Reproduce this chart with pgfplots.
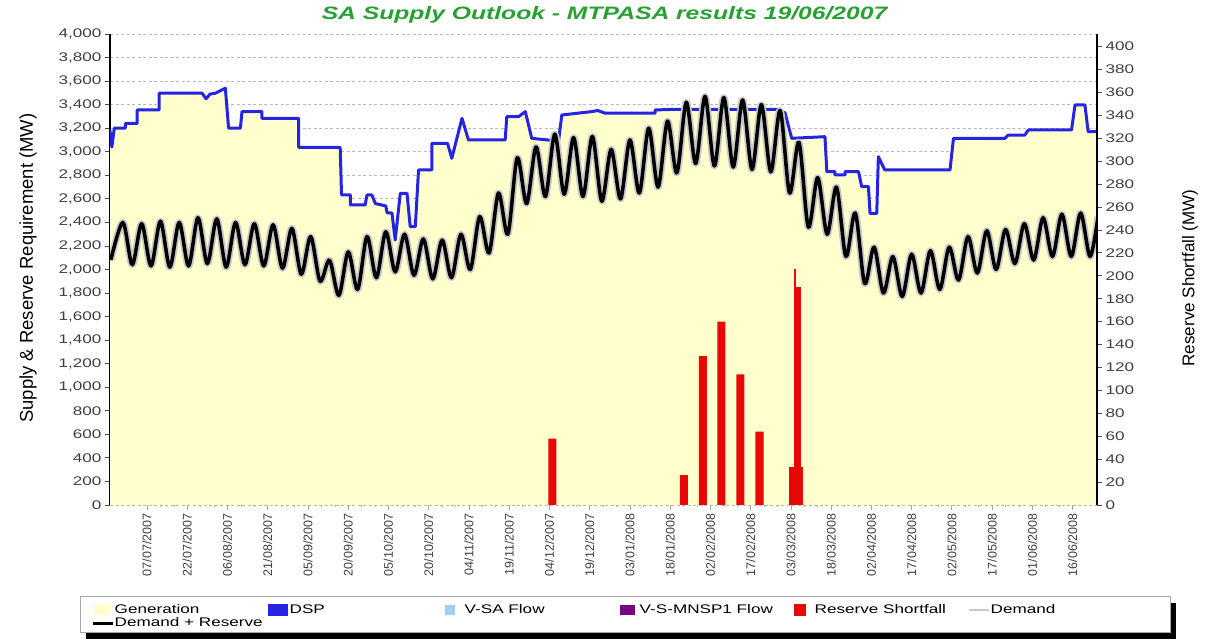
\documentclass[border=0pt]{standalone}
\usepackage{pgfplots}
\pgfplotsset{compat=1.18}
\usepackage{pgfplotstable}
\usepackage{fontspec}
\setmainfont{Liberation Sans}
\newfontfamily\widefont{Liberation Sans}[FakeStretch=1.37]

\definecolor{genyellow}{RGB}{255,255,206}
\definecolor{dspblue}{RGB}{36,36,226}
\definecolor{vsablue}{RGB}{160,205,245}
\definecolor{mnsppurple}{RGB}{120,0,130}
\definecolor{shortred}{RGB}{232,8,8}
\definecolor{demgray}{RGB}{200,200,200}
\definecolor{titlegreen}{RGB}{40,160,50}

% DSP / generation envelope (MW), x = days from 07/07/2007
\pgfplotstableread{
day mw
-13.8 3180
-13.1 3040
-12.2 3200
-8.1 3200
-8.1 3240
-3.7 3240
-3.7 3355
4.5 3355
4.5 3497
20.5 3497
22 3450
23.5 3490
25.5 3497
29.2 3540
30.4 3200
34.8 3200
35.4 3341
42.8 3341
42.8 3284
56.5 3284
56.5 3038
72 3038
72.5 2633
75.8 2633
75.8 2548
81.3 2548
82 2633
83.8 2633
85.1 2560
89 2540
89.5 2480
91.3 2480
92.5 2250
94.4 2647
96.9 2647
98.1 2364
100 2364
101.2 2845
106.2 2845
106.2 3072
112 3072
113.6 2944
117.4 3284
119.8 3100
133.5 3100
134.1 3298
138.5 3298
141 3341
143.4 3114
153.4 3090
154.6 3312
165.8 3341
168 3350
170.8 3327
189.4 3327
189.4 3355
196.8 3360
235.4 3360
237.8 3330
240.3 3114
252.7 3128
253.4 2831
256.4 2831
256.4 2803
260.2 2803
260.2 2831
265.2 2831
266.4 2703
268.9 2703
269.5 2477
272 2477
272.6 2958
275 2845
299.3 2845
300.6 3114
319.8 3114
321 3142
327.2 3142
328.5 3185
344.6 3185
345.9 3397
349.6 3397
350.8 3170
354.1 3170
}\dsp

% Demand + Reserve (MW): weekly peaks and troughs
\pgfplotstableread{
day mw
-13.5 2080
-9 2400
-5.5 2040
-2 2390
1.5 2030
5 2410
8.5 2020
12 2400
15.5 2030
19 2440
22.5 2050
26 2430
29.5 2020
33 2400
36.5 2040
40 2390
43.5 2030
47 2380
50.5 2010
54 2350
57.5 1960
61 2280
64.5 1900
68 2080
71.5 1780
75 2150
78.5 1830
82 2280
85.5 1930
89 2320
92.5 1980
96 2300
99.5 1950
103 2260
106.5 1920
110 2250
113.5 1930
117 2300
120.5 2000
124 2450
127.5 2140
131 2650
134.5 2300
138 2950
141.5 2560
145 3040
148.5 2620
152 3150
155.5 2640
159 3120
162.5 2620
166 3130
169.5 2580
173 3020
176.5 2600
180 3100
183.5 2650
187 3200
190.5 2700
194 3260
197.5 2820
201 3420
204.5 2900
208 3470
211.5 2880
215 3460
218.5 2870
222 3440
225.5 2850
229 3400
232.5 2830
236 3350
239.5 2650
243 3080
246.5 2360
250 2780
253.5 2300
257 2700
260.5 2110
264 2480
267.5 1880
271 2190
274.5 1800
278 2110
281.5 1770
285 2130
288.5 1800
292 2160
295.5 1830
299 2190
302.5 1910
306 2280
309.5 1970
313 2330
316.5 2000
320 2340
323.5 2050
327 2390
330.5 2080
334 2440
337.5 2110
341 2470
344.5 2110
348 2480
351.5 2110
354.5 2450
}\dr

\begin{document}
\begin{tikzpicture}
\path[use as bounding box] (0pt,0pt) rectangle (1217pt,639pt);
% legend frame with shadow
\fill[black] (86pt,0pt) rectangle (1176pt,36pt);
\filldraw[fill=white, draw=gray!70, line width=1pt] (80pt,6pt) rectangle (1170pt,42pt);
\node[font=\fontsize{18}{20}\widefont\bfseries\itshape, text=titlegreen] at (604.5pt,624pt) {SA Supply Outlook - MTPASA results 19/06/2007};

\begin{axis}[
  at={(110pt,134pt)}, anchor=south west,
  scale only axis, width=987pt, height=471pt,
  xmin=-13.8, xmax=354.1, ymin=0, ymax=4000,
  axis x line*=bottom, axis y line*=left,
  x axis line style={draw=gray!70, line width=1pt},
  y axis line style={draw=black, line width=1.6pt},
  tick align=outside,
  major tick length=5pt, minor tick length=2.5pt,
  xtick={0,15,...,345},
  minor x tick num=2,
  xticklabels={07/07/2007,22/07/2007,06/08/2007,21/08/2007,05/09/2007,20/09/2007,05/10/2007,20/10/2007,04/11/2007,19/11/2007,04/12/2007,19/12/2007,03/01/2008,18/01/2008,02/02/2008,17/02/2008,03/03/2008,18/03/2008,02/04/2008,17/04/2008,02/05/2008,17/05/2008,01/06/2008,16/06/2008},
  xticklabel style={rotate=90, anchor=east, font=\fontsize{12.5}{14}\selectfont, text=black!75},
  xtick style={draw=gray!70, line width=0.8pt},
  minor x tick style={draw=gray!60, line width=0.6pt},
  ytick={0,200,...,4000},
  /pgf/number format/1000 sep={,},
  /pgf/number format/assume math mode=true,
  yticklabel style={font=\fontsize{12.5}{14}\widefont, text=black!75},
  ytick style={draw=black!70, line width=0.8pt},
  ymajorgrids,
  grid style={gray!55, dash pattern=on 3pt off 2.5pt, line width=0.8pt},
  ylabel={Supply \& Reserve Requirement (MW)},
  every axis y label/.style={at={(axis description cs:-0.0831,0.503)}, rotate=90, anchor=center, font=\fontsize{18.5}{20}\selectfont},
  legend columns=6,
  legend cell align=left,
  legend style={draw=none, fill=none, at={(axis description cs:-0.01925,-0.2091)}, anchor=north west,
    font=\fontsize{12.5}{14}\widefont, column sep=0pt, row sep=1.5pt, inner sep=0pt, nodes={inner sep=0pt}},
]
\addplot[fill=genyellow, draw=none, forget plot] table[x=day,y=mw]{\dsp} \closedcycle;
\addplot[dspblue, line width=3pt, line join=round, forget plot] table[x=day,y=mw]{\dsp};
\addplot[demgray, line width=7pt, smooth, line join=round, forget plot] table[x=day,y=mw]{\dr};
\addplot[black, line width=3.5pt, smooth, line join=round, forget plot] table[x=day,y=mw]{\dr};

\addlegendimage{legend image code/.code={\path[draw=none,fill=none] (0pt,-6pt) rectangle (22pt,6pt); \path[draw=none,fill=genyellow] (1pt,-5pt) rectangle (17pt,6pt);}}
\addlegendentry{\makebox[153pt][l]{Generation}}
\addlegendimage{legend image code/.code={\path[draw=none,fill=none] (0pt,-6pt) rectangle (22pt,6pt); \path[draw=none,fill=dspblue] (0pt,-6pt) rectangle (20pt,6pt);}}
\addlegendentry{\makebox[153pt][l]{DSP}}
\addlegendimage{legend image code/.code={\path[draw=none,fill=none] (0pt,-6pt) rectangle (22pt,6pt); \path[draw=none,fill=vsablue] (2pt,-5pt) rectangle (12pt,5pt);}}
\addlegendentry{\makebox[153pt][l]{V-SA Flow}}
\addlegendimage{legend image code/.code={\path[draw=none,fill=none] (0pt,-6pt) rectangle (22pt,6pt); \path[draw=none,fill=mnsppurple] (2pt,-5pt) rectangle (17pt,5pt);}}
\addlegendentry{\makebox[153pt][l]{V-S-MNSP1 Flow}}
\addlegendimage{legend image code/.code={\path[draw=none,fill=none] (0pt,-6pt) rectangle (22pt,6pt); \path[draw=none,fill=shortred] (1pt,-6pt) rectangle (13pt,6pt);}}
\addlegendentry{\makebox[153pt][l]{Reserve Shortfall}}
\addlegendimage{legend image code/.code={\path[draw=none,fill=none] (0pt,-6pt) rectangle (22pt,6pt); \path[draw=demgray, fill=none, line width=2pt] (0pt,0pt) -- (20pt,0pt);}}
\addlegendentry{\makebox[153pt][l]{Demand}}
\addlegendimage{legend image code/.code={\path[draw=none,fill=none] (0pt,-6pt) rectangle (22pt,6pt); \path[draw=black, fill=none, line width=3pt] (0pt,0pt) -- (20pt,0pt);}}
\addlegendentry{\makebox[153pt][l]{Demand + Reserve}}
\end{axis}

\begin{axis}[
  at={(110pt,134pt)}, anchor=south west,
  scale only axis, width=987pt, height=471pt,
  xmin=-13.8, xmax=354.1, ymin=0, ymax=411,
  axis x line=none, axis y line*=right,
  y axis line style={draw=black, line width=1.6pt},
  tick align=outside, major tick length=5pt,
  ytick={0,20,...,400},
  /pgf/number format/assume math mode=true,
  yticklabel style={font=\fontsize{12.5}{14}\widefont, text=black!75},
  ytick style={draw=black!70, line width=0.8pt},
  ylabel={Reserve Shortfall (MW)},
  every axis y label/.style={at={(axis description cs:1.0942,0.482)}, rotate=90, anchor=center, font=\fontsize{17}{19}\selectfont},
]
\addplot[ybar, bar shift=0pt, bar width=3, fill=shortred, draw=none] coordinates {(151.1,58) (200.1,26) (207.2,130) (214.1,160) (221.2,114) (228.3,64)};
\addplot[ybar, bar shift=0pt, bar width=5.2, fill=shortred, draw=none] coordinates {(241.9,33)};
\addplot[ybar, bar shift=0pt, bar width=2.6, fill=shortred, draw=none] coordinates {(242.3,190)};
\addplot[ybar, bar shift=0pt, bar width=0.7, fill=shortred, draw=none] coordinates {(241.5,206)};
\end{axis}
\end{tikzpicture}
\end{document}
